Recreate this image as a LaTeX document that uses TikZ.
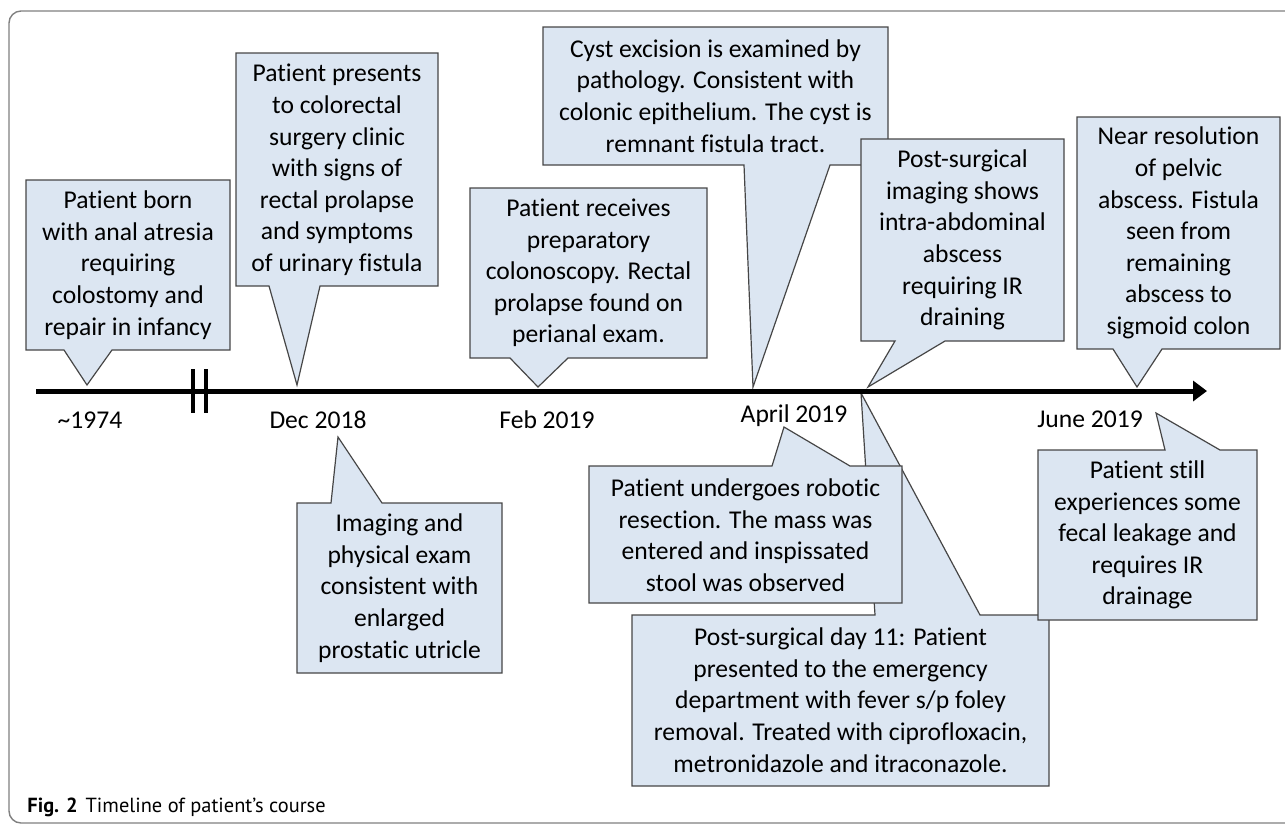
\documentclass[tikz,border=0pt]{standalone}
\usepackage{fontspec}
\setmainfont{Carlito}[Ligatures=NoCommon]
\newfontfamily\capfont{PT Sans}
\usetikzlibrary{arrows.meta}
\definecolor{notefill}{RGB}{220,230,242}
\definecolor{noteline}{RGB}{70,70,70}
\definecolor{framegray}{RGB}{128,128,128}

\begin{document}
\begin{tikzpicture}[x=0.5pt,y=-0.5pt,
  callout/.style={fill=notefill,draw=noteline,line width=0.6pt,line join=miter},
  note/.style={align=center,inner sep=0pt,font=\fontsize{12.8}{15.8}\selectfont},
  datelabel/.style={anchor=base,inner sep=0pt,font=\fontsize{12.8}{15.8}\selectfont},
  axisline/.style={line width=2.5pt,-{Triangle[length=7pt,width=10pt]}},
  breakbar/.style={line width=2pt}]
\useasboundingbox (0,0) rectangle (1285,826);
\clip (0,0) rectangle (1285,826);
% Drawing frame
\draw[framegray,line width=0.7pt,rounded corners=6pt] (1300,11) -- (9,11) -- (9,823) -- (1300,823);
% Drawing callouts above the axis
% Callout 1: ~1974
\filldraw[callout] (26,180) -- (230,180) -- (230,350) -- (112,350) -- (87,385) -- (64,350) -- (26,350) -- cycle;
\node[note] (born) at (128,265) {Patient born\\with anal atresia\\requiring\\colostomy and\\repair in infancy};
% Callout 2: Dec 2018, clinic
\filldraw[callout] (236,53) -- (438,53) -- (438,286) -- (320,286) -- (297,385) -- (269,286) -- (236,286) -- cycle;
\node[note] (clinic) at (337,170) {Patient presents\\to colorectal\\surgery clinic\\with signs of\\rectal prolapse\\and symptoms\\of urinary fistula};
% Callout 3: Feb 2019
\filldraw[callout] (470,188) -- (707,188) -- (707,358) -- (568,358) -- (538,387) -- (510,358) -- (470,358) -- cycle;
\node[note] (scope) at (588.5,273) {Patient receives\\preparatory\\colonoscopy. Rectal\\prolapse found on\\perianal exam.};
% Callout 4: April 2019, pathology
\filldraw[callout] (543,27) -- (888,27) -- (888,165) -- (830,165) -- (753,387) -- (744,165) -- (543,165) -- cycle;
\node[note] (pathology) at (715.5,96) {Cyst excision is examined by\\pathology. Consistent with\\colonic epithelium. The cyst is\\remnant fistula tract.};
% Callout 5: April 2019, imaging
\filldraw[callout] (861,139) -- (1064,139) -- (1064,341) -- (945,341) -- (868,387) -- (895,341) -- (861,341) -- cycle;
\node[note] (abscess) at (962.5,240) {Post-surgical\\imaging shows\\intra-abdominal\\abscess\\requiring IR\\draining};
% Callout 6: June 2019, resolution
\filldraw[callout] (1077,117) -- (1280,117) -- (1280,349) -- (1162,349) -- (1137,387) -- (1113,349) -- (1077,349) -- cycle;
\node[note] (resolution) at (1178.5,233) {Near resolution\\of pelvic\\abscess. Fistula\\seen from\\remaining\\abscess to\\sigmoid colon};
% Done with callouts above; drawing callouts below the axis
% Callout 7: Dec 2018, exam
\filldraw[callout] (297,503) -- (331,503) -- (338,437) -- (382,503) -- (502,503) -- (502,673) -- (297,673) -- cycle;
\node[note] (utricle) at (399.5,588) {Imaging and\\physical exam\\consistent with\\enlarged\\prostatic utricle};
% Callout 8: day 11
\filldraw[callout] (632,615) -- (875,615) -- (861,393) -- (980,615) -- (1049,615) -- (1049,786) -- (632,786) -- cycle;
\node[note] (dayeleven) at (840.5,700) {Post-surgical day 11: Patient\\presented to the emergency\\department with fever s/p foley\\removal. Treated with ciprofloxacin,\\metronidazole and itraconazole.};
% Callout 9: April 2019, resection
\filldraw[callout] (589,466) -- (772,466) -- (784,427) -- (850,466) -- (902,466) -- (902,603) -- (589,603) -- cycle;
\node[note] (resection) at (745.5,535) {Patient undergoes robotic\\resection. The mass was\\entered and inspissated\\stool was observed};
% Callout 10: June 2019, leakage
\filldraw[callout] (1038,450) -- (1165,450) -- (1156,413) -- (1220,450) -- (1257,450) -- (1257,620) -- (1038,620) -- cycle;
\node[note] (leakage) at (1147.5,535) {Patient still\\experiences some\\fecal leakage and\\requires IR\\drainage};
% Done with callouts; drawing axis
\coordinate (axisstart) at (36,391);
\coordinate (axisend) at (1207,391);
\draw[axisline] (axisstart) -- (axisend);
\draw[breakbar] (193,369) -- (193,413);
\draw[breakbar] (206,369) -- (206,413);
% Date labels
\node[datelabel] (d1974) at (90,428) {\textasciitilde1974};
\node[datelabel] (dec18) at (318,428) {Dec 2018};
\node[datelabel] (feb19) at (547,428) {Feb 2019};
\node[datelabel] (apr19) at (794,422) {April 2019};
\node[datelabel] (jun19) at (1090,427) {June 2019};
% Caption
\node[anchor=base west,inner sep=0pt,font=\capfont\fontsize{10.2}{12}\selectfont] (caption) at (27,812) {\textbf{Fig. 2}\hspace{4pt}Timeline of patient’s course};
\end{tikzpicture}
\end{document}
